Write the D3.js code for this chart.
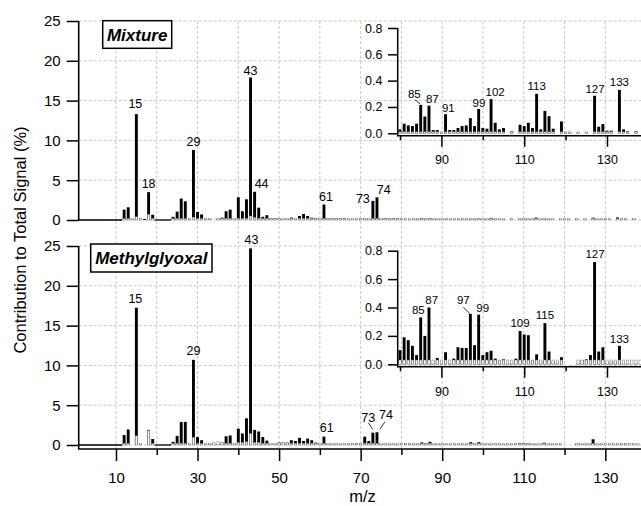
<!DOCTYPE html>
<html><head><meta charset="utf-8">
<script src="https://cdn.jsdelivr.net/npm/d3@7"></script>
<style>
body{margin:0;background:#fff}
svg{display:block}
text{font-family:"Liberation Sans",Arial,Helvetica,sans-serif;fill:#000}
</style>
</head><body>
<svg id="c" width="641" height="506"></svg>
<script>
// ---------------- DATA ----------------
const mzStart = 12; // first m/z of the value arrays (12 .. 138)

// Mixture: black bars (% of total signal), m/z 12..138
const mixtureValues = [
  1.3, 1.6, 0.05, 13.3, 0.1, 0.05, 3.5, 0.65,                 // 12-19
  null, null, null, null, 0.4, 1.05, 2.7, 2.35, 0.15, 8.8,    // 20-29
  1.0, 0.7, 0.1, 0.1, null, 0.05, 0.3, 1.1, 1.3, 0.1,          // 30-39
  2.85, 1.1, 2.6, 17.9, 3.55, 1.55, 0.4, 0.6, 0.2, 0.2,        // 40-49
  0.2, 0.05, 0.1, 0.3, 0.15, 0.5, 0.75, 0.5, 0.3, 0.2,         // 50-59
  0.15, 1.95, 0.2, 0.2, 0.2, 0.2, 0.2, 0.05, 0.05, 0.05,       // 60-69
  0.15, 0.15, 0.1, 2.4, 2.85, 0.15, 0.2, 0.2, 0.2, 0.2,        // 70-79
  0.03, 0.073, 0.06, 0.055, 0.073, 0.215, 0.127, 0.21, 0.025, 0.025, // 80-89
  0.01, 0.145, 0.025, 0.025, 0.04, 0.055, 0.06, 0.115, 0.055, 0.185, // 90-99
  0.04, 0.035, 0.26, 0.08, 0.03, 0.04, null, 0.015, null, 0.065,     // 100-109
  0.055, 0.08, 0.04, 0.30, 0.03, 0.17, 0.13, 0.035, null, 0.09,      // 110-119
  0.01, 0.01, null, 0.01, null, 0.01, null, 0.285, 0.05, 0.07,       // 120-129
  0.02, 0.02, null, 0.33, 0.03, 0.015, null, 0.015, null             // 130-138
];
// Mixture: open (white) bars
const mixtureOpen = [
  0.15, 0.15, 0.1, 0.4, 0.1, null, 0.7, 0.2,
  null, null, null, null, 0.05, 0.15, 0.15, 0.15, 0.1, 0.35,
  0.15, 0.15, 0.05, 0.05, null, 0.05, 0.1, 0.15, 0.15, 0.1,
  0.2, 0.15, 0.2, 0.5, 0.3, 0.2, 0.1, 0.1, 0.05, 0.05,
  0.05, 0.05, 0.05, 0.05, 0.05, 0.05, 0.05, 0.05, 0.05, 0.05,
  0.05, 0.05, 0.05, 0.05, 0.05, 0.05, 0.05, 0.05, 0.05, 0.05,
  0.05, 0.05, 0.05, 0.05, 0.05, 0.05, 0.05, 0.05, 0.05, 0.05,
  0.008, 0.008, 0.008, 0.008, 0.008, 0.008, 0.008, 0.008, 0.008, 0.008,
  0.008, 0.008, 0.008, 0.008, 0.008, 0.008, 0.008, 0.008, 0.008, 0.008,
  0.008, 0.008, 0.008, 0.008, 0.008, 0.008, null, 0.008, null, 0.008,
  0.008, 0.008, 0.008, 0.008, 0.008, 0.008, 0.008, 0.008, null, 0.008,
  0.008, 0.008, null, 0.008, null, 0.008, null, 0.008, 0.008, 0.008,
  0.008, 0.008, null, 0.008, 0.008, 0.008, null, 0.008, null
];

// Methylglyoxal: black bars, m/z 12..138
const mgValues = [
  1.25, 1.95, null, 17.25, 0.1, null, 1.9, 0.75,
  null, null, null, null, 0.4, 1.15, 2.9, 2.9, 0.1, 10.7,
  1.0, 0.6, 0.05, 0.05, 0.1, 0.1, 0.3, 1.1, 1.2, 0.1,
  2.05, 1.45, 3.35, 24.7, 1.9, 1.7, 1.0, 0.55, 0.1, 0.1,
  0.3, 0.3, 0.3, 0.6, 0.5, 0.9, 0.5, 0.8, 0.6, 0.3,
  0.1, 1.05, 0.15, 0.1, 0.1, 0.1, 0.1, 0.15, 0.15, 0.2,
  0.05, 1.05, 0.5, 1.55, 1.6, 0.1, 0.1, 0.1, 0.1, 0.1,
  0.10, 0.19, 0.17, 0.13, 0.065, 0.33, 0.20, 0.40, 0.01, 0.045,
  0.01, 0.085, 0.01, 0.04, 0.12, 0.115, 0.115, 0.355, 0.135, 0.35,
  0.065, 0.085, 0.095, 0.04, 0.03, 0.035, 0.01, 0.015, 0.04, 0.235,
  0.21, 0.205, 0.03, 0.07, 0.02, 0.29, 0.09, 0.02, 0.01, 0.05,
  null, null, null, 0.01, 0.03, 0.035, 0.065, 0.72, 0.09, 0.12,
  0.01, 0.02, 0.02, 0.13, 0.01, 0.01, null, 0.01, null
];
const mgOpen = [
  0.15, 0.15, null, 1.15, 0.1, null, 1.8, 0.15,
  null, null, null, null, 0.1, 0.2, 0.2, 0.2, 0.1, 0.95,
  0.2, 0.15, 0.1, 0.2, 0.35, 0.4, 0.3, 0.2, 0.2, 0.15,
  0.3, 0.3, 0.4, 1.45, 0.3, 0.3, 0.2, 0.2, 0.15, 0.2,
  0.25, 0.3, 0.25, 0.2, 0.2, 0.2, 0.2, 0.2, 0.2, 0.2,
  0.2, 0.2, 0.2, 0.2, 0.2, 0.2, 0.2, 0.2, 0.2, 0.2,
  0.2, 0.2, 0.2, 0.2, 0.2, 0.2, 0.2, 0.2, 0.2, 0.2,
  0.03, 0.03, 0.03, 0.03, 0.03, 0.03, 0.03, 0.03, 0.03, 0.03,
  0.03, 0.03, 0.03, 0.03, 0.03, 0.03, 0.03, 0.03, 0.03, 0.03,
  0.03, 0.03, 0.03, 0.03, 0.03, 0.03, 0.03, 0.03, 0.03, 0.03,
  0.03, 0.03, 0.03, 0.03, 0.03, 0.03, 0.03, 0.03, 0.03, 0.03,
  null, null, null, 0.03, 0.03, 0.03, 0.03, 0.03, 0.03, 0.03,
  0.03, 0.03, 0.03, 0.03, 0.03, 0.03, 0.03, 0.03, 0.03
];
// runs of m/z with zero signal (drawn as a flat trace)
const zeroRuns = [[1, 11], [20, 23]];

// labels
const mixtureMainLabels = [15, 18, 29, 43, 44, 61, 73, 74];
const mgMainLabels = [15, 29, 43, 61, 73, 74];
const mixtureInsetLabels = [85, 87, 91, 99, 102, 113, 127, 133];
const mgInsetLabels = [85, 87, 97, 99, 109, 115, 127, 133];

// ticks
const mainYTicks = [0, 5, 10, 15, 20, 25];
const mainXMajor = [10, 30, 50, 70, 90, 110, 130];
const mainXMinor = [20, 40, 60, 80, 100, 120];
const gridX = [10, 20, 30, 40, 50, 60, 70, 80, 90, 100, 110, 120, 130];
const insetYTicks = [0, 0.2, 0.4, 0.6, 0.8];
const insetXMajor = [90, 110, 130];
const insetXMinor = [80, 100, 120];

const panelTitles = ["Mixture", "Methylglyoxal"];
const yTitle = "Contribution to Total Signal (%)";
const xTitle = "m/z";

// ---------------- LAYOUT / STYLE ----------------
// label placement: [dx from bar, dy of baseline from bar top, anchor, leader]
const labelStyle = {
  mixMain: {15:[-1,-6.5],18:[0,-4],29:[0,-4.3],43:[0,-3],44:[0,-3.3,"start"],61:[2,-3],73:[-10,2],74:[6.7,-3.6]},
  mgMain: {15:[-1,-4.7],29:[0,-4.4],43:[1,-4.7],61:[2.7,-4.2],73:[-4.6,-10.7,"middle",[[-4.6,-10],[-0.3,-3.4]]],74:[9,-13.6,"middle",[[8,-10.6],[3,-3]]]},
  mixInset: {85:[-6.4,-7.4,"middle",[[-5.7,-5.2],[-0.2,-0.8]]],87:[3.3,-2.4],91:[2.8,-2.6],99:[0.3,-2],102:[4,-2.8],113:[0,-3.5],127:[0.4,-3.2],133:[0,-3.6]},
  mgInset: {85:[-2.4,-3.1],87:[2.7,-3.2],97:[-7,-9.6,"middle",[[-7,-6.6],[-0.4,-0.2]]],99:[4,-3],109:[0,-3.9],115:[0,-4.5],127:[0.4,-3.8],133:[0,-3.2]}
};

const W = 641;
const svg = d3.select("#c");

const x = d3.scaleLinear().domain([0, 140]).range([75.2, 646.1]);
const axisLeftX = 78.7;
const yTop = d3.scaleLinear().domain([0, 25]).range([220, 21]);
const yBot = d3.scaleLinear().domain([0, 25]).range([445, 246]);
const xAxisY = 449;

const xIn = d3.scaleLinear().domain([80, 130]).range([400, 607]);
const insetLeft = 397.7;
const yInTop = d3.scaleLinear().domain([0, 0.8]).range([133.3, 28]);
const yInBot = d3.scaleLinear().domain([0, 0.8]).range([364.3, 250.7]);
const insetAxisTop = 135.7, insetAxisBot = 366.7;
const barW = 2.9;

// ---------------- GRID ----------------
const grid = svg.append("g").attr("stroke", "#c9c9c9").attr("stroke-width", 1)
  .attr("stroke-dasharray", "3,2").attr("fill", "none");
gridX.forEach(v => grid.append("line").attr("x1", x(v)).attr("x2", x(v)).attr("y1", yTop(25)).attr("y2", xAxisY));
[yTop, yBot].forEach(y => mainYTicks.forEach(v =>
  grid.append("line").attr("x1", axisLeftX).attr("x2", W).attr("y1", y(v)).attr("y2", y(v))));

// ---------------- BARS ----------------
function rows(vals) {
  return vals.map((v, i) => ({ m: i + mzStart, v })).filter(d => d.v != null);
}
function drawBars(g, xs, ys, black, open, lo, hi, bw) {
  const y0 = ys(0);
  const b = rows(black).filter(d => d.m >= lo && d.m <= hi);
  const o = rows(open).filter(d => d.m >= lo && d.m <= hi);
  g.append("g").selectAll("rect").data(b).join("rect")
    .attr("x", d => xs(d.m) - bw / 2).attr("width", bw)
    .attr("y", d => Math.min(ys(d.v), y0 - 1))
    .attr("height", d => Math.max(y0 - ys(d.v), 1))
    .attr("fill", "#000");
  g.append("g").selectAll("rect").data(o).join("rect")
    .attr("x", d => xs(d.m) - bw / 2 + 0.3).attr("width", bw - 0.6)
    .attr("y", d => Math.min(ys(d.v), y0 - 1.4))
    .attr("height", d => Math.max(y0 - ys(d.v), 1.4))
    .attr("fill", "#fff").attr("stroke", "#777").attr("stroke-width", 0.5);
  // zero-signal runs
  if (xs === x) {
    zeroRuns.forEach(r => g.append("line").attr("x1", Math.max(xs(r[0] - 0.5), axisLeftX)).attr("x2", xs(r[1] + 0.5))
      .attr("y1", y0).attr("y2", y0).attr("stroke", "#000").attr("stroke-width", 1.3));
  }
}
const barsG = svg.append("g");
drawBars(barsG, x, yTop, mixtureValues, mixtureOpen, 1, 139, barW);
drawBars(barsG, x, yBot, mgValues, mgOpen, 1, 139, barW);
drawBars(barsG, xIn, yInTop, mixtureValues, mixtureOpen, 80, 139, barW);
drawBars(barsG, xIn, yInBot, mgValues, mgOpen, 80, 139, barW);

// ---------------- AXES ----------------
function styleAxis(g, fs) {
  g.select(".domain").remove();
  g.selectAll("line").attr("stroke", "#000").attr("stroke-width", 1.5);
  g.selectAll("text").attr("font-size", fs).attr("fill", "#000");
  g.attr("font-family", null);
}
// main left axes
[yTop, yBot].forEach(y => {
  const g = svg.append("g").attr("transform", `translate(${axisLeftX},0)`)
    .call(d3.axisLeft(y).tickValues(mainYTicks).tickSize(12).tickPadding(6).tickFormat(d3.format("d")));
  styleAxis(g, 15);
});
svg.append("line").attr("x1", axisLeftX).attr("x2", axisLeftX).attr("y1", yTop(25)).attr("y2", yTop(0) + 0.5)
  .attr("stroke", "#000").attr("stroke-width", 1.6);
svg.append("line").attr("x1", axisLeftX).attr("x2", axisLeftX).attr("y1", yBot(25)).attr("y2", xAxisY)
  .attr("stroke", "#000").attr("stroke-width", 1.6);
// main bottom axis
{
  const g1 = svg.append("g").attr("transform", `translate(0,${xAxisY})`)
    .call(d3.axisBottom(x).tickValues(mainXMajor).tickSize(12).tickPadding(11).tickFormat(d3.format("d")));
  styleAxis(g1, 15);
  const g2 = svg.append("g").attr("transform", `translate(0,${xAxisY})`)
    .call(d3.axisBottom(x).tickValues(mainXMinor).tickSize(6).tickFormat(""));
  styleAxis(g2, 15);
  svg.append("line").attr("x1", axisLeftX - 0.8).attr("x2", W).attr("y1", xAxisY).attr("y2", xAxisY)
    .attr("stroke", "#000").attr("stroke-width", 1.6);
}
// insets
function inset(yIn, axisY, labelPad) {
  const gl = svg.append("g").attr("transform", `translate(${insetLeft},0)`)
    .call(d3.axisLeft(yIn).tickValues(insetYTicks).tickSize(9.7).tickPadding(5.5).tickFormat(d3.format(".1f")));
  styleAxis(gl, 12.5);
  const gb = svg.append("g").attr("transform", `translate(0,${axisY})`)
    .call(d3.axisBottom(xIn).tickValues(insetXMajor).tickSize(11).tickPadding(labelPad).tickFormat(d3.format("d")));
  styleAxis(gb, 12.5);
  const gm = svg.append("g").attr("transform", `translate(0,${axisY})`)
    .call(d3.axisBottom(xIn).tickValues(insetXMinor).tickSize(4.5).tickFormat(""));
  styleAxis(gm, 12.5);
  svg.append("line").attr("x1", insetLeft).attr("x2", insetLeft).attr("y1", yIn(0.8)).attr("y2", axisY)
    .attr("stroke", "#000").attr("stroke-width", 1.5);
  svg.append("line").attr("x1", insetLeft - 0.7).attr("x2", W).attr("y1", axisY).attr("y2", axisY)
    .attr("stroke", "#000").attr("stroke-width", 1.5);
}
inset(yInTop, insetAxisTop, 8.7);
inset(yInBot, insetAxisBot, 9.8);

// ---------------- BAR LABELS ----------------
function barLabels(list, vals, xs, ys, style, fs) {
  const g = svg.append("g");
  list.forEach(m => {
    const v = vals[m - mzStart];
    const s = style[m] || [0, -3];
    const bx = xs(m), by = ys(v);
    g.append("text").attr("x", bx + s[0]).attr("y", by + s[1])
      .attr("text-anchor", s[2] || "middle").attr("font-size", fs).text(m);
    if (s[3]) {
      g.append("line").attr("x1", bx + s[3][0][0]).attr("y1", by + s[3][0][1])
        .attr("x2", bx + s[3][1][0]).attr("y2", by + s[3][1][1])
        .attr("stroke", "#000").attr("stroke-width", 0.8);
    }
  });
}
barLabels(mixtureMainLabels, mixtureValues, x, yTop, labelStyle.mixMain, 12.5);
barLabels(mgMainLabels, mgValues, x, yBot, labelStyle.mgMain, 12.5);
barLabels(mixtureInsetLabels, mixtureValues, xIn, yInTop, labelStyle.mixInset, 11.5);
barLabels(mgInsetLabels, mgValues, xIn, yInBot, labelStyle.mgInset, 11.5);

// ---------------- PANEL TITLES ----------------
const boxes = [{x: 102.7, y: 20.7, w: 69, h: 27.6}, {x: 90.7, y: 244, w: 121.3, h: 28}];
panelTitles.forEach((t, i) => {
  const b = boxes[i];
  svg.append("rect").attr("x", b.x).attr("y", b.y).attr("width", b.w).attr("height", b.h)
    .attr("fill", "#fff").attr("stroke", "#000").attr("stroke-width", 1.5);
  svg.append("text").attr("x", b.x + b.w / 2).attr("y", b.y + b.h / 2 + 6)
    .attr("text-anchor", "middle").attr("font-size", 17).attr("font-weight", "bold")
    .attr("font-style", "italic").text(t);
});

// ---------------- AXIS TITLES ----------------
svg.append("text").attr("transform", "translate(26,240) rotate(-90)")
  .attr("text-anchor", "middle").attr("font-size", 16.5).text(yTitle);
svg.append("text").attr("x", 362.5).attr("y", 502).attr("text-anchor", "middle")
  .attr("font-size", 16.5).text(xTitle);
</script>
</body></html>
